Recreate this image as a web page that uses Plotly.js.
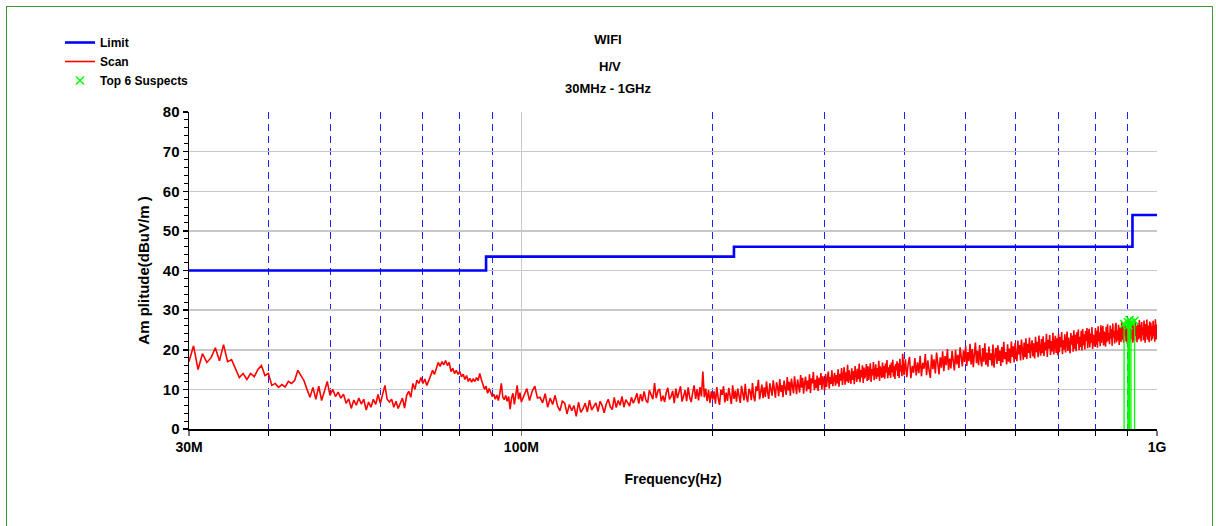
<!DOCTYPE html>
<html>
<head>
<meta charset="utf-8">
<script src="https://cdn.plot.ly/plotly-3.0.1.min.js"></script>
<style>
  html, body { margin: 0; padding: 0; background: #fff; overflow: hidden; }
  #frame { position: absolute; left: 6px; top: 6px; width: 1207px; height: 600px; border: 1px solid #3a9a3a; box-sizing: border-box; pointer-events: none; }
  #chart { position: absolute; left: 0; top: 0; width: 1216px; height: 526px; }
</style>
</head>
<body>
<div id="chart"></div>
<div id="frame"></div>
<script>
// ---- Data (frequencies in MHz, amplitudes in dBuV/m) ----
const titleLines = ["WIFI", "H/V", "30MHz - 1GHz"];
const xTickVals = [30, 100, 1000];
const xTickText = ["30M", "100M", "1G"];
const xMinorVals = [40, 50, 60, 70, 80, 90, 200, 300, 400, 500, 600, 700, 800, 900];

const limitFreq = [30, 88, 216, 915, 1000];
const limitAmp  = [40, 43.5, 46, 54, 54];

const suspectFreq = [887.7, 899.8, 902.5, 905.4, 910, 922];
const suspectAmp  = [26.5, 27, 26.2, 27.5, 26.8, 27.3];

const scanFreqLow = [
  30,30.5,31,31.5,32,32.5,33,33.5,34,34.5,
  35,35.5,36,36.5,37,37.5,38,38.5,39,39.5,
  40,40.5,41,41.5,42,42.5,43,43.5,44,44.5,
  45,45.5,46,46.5,47,47.5,48,48.5,49,49.5,
  50,50.5,51,51.5,52,52.5,53,53.5,54,54.5,
  55,55.5,56,56.5,57,57.5,58,58.5,59,59.5,
  60,60.5,61,61.5,62,62.5,63,63.5,64,64.5,
  65,65.5,66,66.5,67,67.5,68,68.5,69,69.5,
  70,70.5,71,71.5,72,72.5,73,73.5,74,74.5,
  75,75.5,76,76.5,77,77.5,78,78.5,79,79.5,
  80,80.5,81,81.5,82,82.5,83,83.5,84,84.5,
  85,85.5,86,86.5,87,87.5,88,88.5,89,89.5,
  90,90.5,91,91.5,92,92.5,93,93.5,94,94.5,
  95,95.5,96,96.5,97,97.5,98,98.5,99,99.5,
  100];
const scanAmpLow = [
  17,21,15,19,16.8,18,20.5,17.2,21.3,17,
  17.5,15,13,14,12.5,14,13.2,15,16,13.5,
  14,11,11.5,10.5,11.2,10.6,12,11.5,12.3,14.8,
  13.5,12.2,10,8,10.5,7.5,10.8,7.2,9.5,12,
  8.5,10,8.2,9.3,7.8,8.8,6.5,7.6,5.2,7.3,
  6,7.8,6.3,7.5,4.8,6.8,5.5,7.5,6.2,8.7,
  6.5,9,11,7.5,6.8,7.5,5.5,7,5.2,6.5,
  7.8,5.3,8.5,9.5,8,11.5,10,12.3,11.5,13,
  11.5,12.6,11,12.2,13.5,14.8,13.8,15.2,16.8,15.8,
  17,16.2,17.3,16,16.8,14.5,15.3,14,14.8,13.8,
  14.5,13.2,13.8,12.5,13.5,12,12.8,11.8,12.6,12,
  13,12.2,14,12.5,11,10,10.8,9,10.2,9.3,
  8.2,8.8,7.5,8.6,7.2,9,11.5,8,7.4,8.5,
  7,8.2,5,7.8,9,6.2,8.5,11,7.5,9.2,
  6.8];

const scanFreqMid = [
  101,102,103,104,105,106,107,108,109,110,
  111,112,113,114,115,116,117,118,119,120,
  121,122,123,124,125,126,127,128,129,130,
  131,132,133,134,135,136,137,138,139,140,
  141,142,143,144,145,146,147,148,149,150,
  151,152,153,154,155,156,157,158,159,160,
  161,162,163,164,165,166,167,168,169,170,
  171,172,173,174,175,176,177,178,179,180,
  181,182,183,184,185,186,187,188,189,190,
  191,192,193,194,195,196,197,198,199,200];
const scanAmpMid = [
  8.5,10.2,7.2,9.5,10.8,7.8,8,6.6,8.9,5.5,
  7.8,6.2,8.5,5.8,4.6,7,6.5,3.8,6.2,4.6,
  5.9,3.2,6.8,4.2,5.1,6.5,4.3,7.3,4.8,5.6,
  6.6,4.4,7,5.9,4.1,6.3,7.5,5.6,4.9,8,
  5.4,7.2,6,8.2,5.5,7.4,6.6,5.8,8,6.5,
  7.6,9,6.4,8.8,7,9.5,7.3,6.6,9.8,8.4,
  7.5,11.6,7.8,9.6,10.1,7,8.4,6.8,9.2,10.4,
  7.5,8.2,9.6,6.5,10.2,7.8,9.4,10.8,6.9,8.6,
  9.8,7,10.5,8,6.8,9.2,11,7.6,10,7.2,
  10.6,8.2,14.5,8,10.2,7,9.8,6.6,9.5,7.4];

const scanFreqHigh = [
  201,202,203,204,205,206,207,208,209,210,
  211,212,213,214,215,216,217,218,219,220,
  221,222,223,224,225,226,227,228,229,230,
  231,232,233,234,235,236,237,238,239,240,
  241,242,243,244,245,246,247,248,249,250,
  251,252,253,254,255,256,257,258,259,260,
  261,262,263,264,265,266,267,268,269,270,
  271,272,273,274,275,276,277,278,279,280,
  281,282,283,284,285,286,287,288,289,290,
  291,292,293,294,295,296,297,298,299,300,
  301,302,303,304,305,306,307,308,309,310,
  311,312,313,314,315,316,317,318,319,320,
  321,322,323,324,325,326,327,328,329,330,
  331,332,333,334,335,336,337,338,339,340,
  341,342,343,344,345,346,347,348,349,350,
  351,352,353,354,355,356,357,358,359,360,
  361,362,363,364,365,366,367,368,369,370,
  371,372,373,374,375,376,377,378,379,380,
  381,382,383,384,385,386,387,388,389,390,
  391,392,393,394,395,396,397,398,399,400];
const scanAmpHigh = [
  9.5,6.4,10.6,7.8,6.1,9.9,8.6,10.8,6.7,9.2,
  7.1,10.4,8.8,6.3,11,7.6,9.7,6.9,10.2,8.1,
  6.6,10.9,9.3,7.2,11.4,8,6.8,10.1,9.5,7.3,
  11.6,8.2,7,10.8,9.6,12.4,7.5,9.9,11.2,7.8,
  10.5,8.1,12,9.3,7.6,11.5,10.2,8.4,12.3,9,
  7.9,11.8,10.6,8.3,12.6,9.4,11.1,8,12.2,10.3,
  8.6,13.1,9.7,11.9,8.4,12.7,10.9,9,13.3,10.1,
  8.8,12.5,11.3,9.2,13.6,10.4,12.9,8.9,11.7,13.2,
  9.5,12.2,10.1,13.8,9.1,12.8,11.5,14.4,9.8,12.4,
  10.3,13.5,9.6,12.9,11.1,14.1,10,13.3,11.8,9.7,
  13.9,10.6,12.7,14.5,10.2,13.1,11.4,14.8,10.8,12.5,
  14.2,10.9,13.6,11.5,15.1,10.7,13.9,12.2,15.4,11.1,
  13.4,15.6,11.2,14.3,12,16.2,11.6,14.8,12.7,11.4,
  15.3,12.4,14.6,11.3,15.9,13.1,11.9,15.2,12.6,16.5,
  11.8,14.9,13,16.1,11.6,15.5,12.8,14.2,16.4,12.1,
  15.8,12.4,14.7,16.6,11.9,15.1,13.5,16.9,12.3,14.4,
  16.3,12.6,15.4,13.2,17.2,12.2,15.8,14.6,12.9,16.8,
  13.1,15.9,12.7,16.5,14.2,17.4,12.8,15.6,13.6,16.2,
  12.9,16.8,14.3,17.5,13.2,15.9,12.6,16.4,14.8,17.1,
  13.4,16.6,12.9,17.7,14.5,16.1,13.3,19,15.2,13.6];

const scanFreqTop = [
  402,404,406,408,410,412,414,416,418,420,
  422,424,426,428,430,432,434,436,438,440,
  442,444,446,448,450,452,454,456,458,460,
  462,464,466,468,470,472,474,476,478,480,
  482,484,486,488,490,492,494,496,498,500,
  502,504,506,508,510,512,514,516,518,520,
  522,524,526,528,530,532,534,536,538,540,
  542,544,546,548,550,552,554,556,558,560,
  562,564,566,568,570,572,574,576,578,580,
  582,584,586,588,590,592,594,596,598,600,
  602,604,606,608,610,612,614,616,618,620,
  622,624,626,628,630,632,634,636,638,640,
  642,644,646,648,650,652,654,656,658,660,
  662,664,666,668,670,672,674,676,678,680,
  682,684,686,688,690,692,694,696,698,700,
  702,704,706,708,710,712,714,716,718,720,
  722,724,726,728,730,732,734,736,738,740,
  742,744,746,748,750,752,754,756,758,760,
  762,764,766,768,770,772,774,776,778,780,
  782,784,786,788,790,792,794,796,798,800,
  802,804,806,808,810,812,814,816,818,820,
  822,824,826,828,830,832,834,836,838,840,
  842,844,846,848,850,852,854,856,858,860,
  862,864,866,868,870,872,874,876,878,880,
  882,884,886,888,890,892,894,896,898,900,
  902,904,906,908,910,912,914,916,918,920,
  922,924,926,928,930,932,934,936,938,940,
  942,944,946,948,950,952,954,956,958,960,
  962,964,966,968,970,972,974,976,978,980,
  982,984,986,988,990,992,994,996,998,1000];
const scanAmpTop = [
  17.6,13.1,16.4,18.2,12.8,15.9,14.2,17.9,13.5,16.8,
  14.1,18.5,13.3,16.7,15.2,18.9,13.6,17.3,14.7,12.9,
  18.8,15.1,17.6,14,19.3,16.2,13.8,18.1,15.5,19.6,
  14.6,18.4,16.1,20.2,14.9,17.8,15.3,19.7,16.5,14.8,
  19.9,16.3,18.7,15.4,20.6,17.2,15.8,19.8,16.9,21,
  15.9,19.4,17.1,21.5,16.3,20.2,15.6,18.9,21.8,16.6,
  19.7,16.1,21.2,17.5,15.8,20.4,17,21.6,16.2,19.3,
  15.7,20.8,17.4,19.1,16,21.3,15.5,18.6,20.5,16.4,
  21.1,17.2,19.8,15.9,20.7,16.8,22,17.6,19.4,16.3,
  21.4,17,20.3,16.6,22.1,18.2,20.9,16.8,21.7,18.5,
  17.1,22.3,18.8,21.2,17.3,22.6,19,17.5,21.8,18.1,
  22.9,17.7,21.5,19.2,23.1,17.9,20.8,22.4,18.3,21.6,
  17.8,23.3,19.4,22,18.1,23.6,20.2,18.5,22.7,19.1,
  23.4,18.4,21.9,19.8,24,18.2,22.5,20.3,23.7,18.7,
  22.2,19.6,24.3,18.8,21.4,23.5,19.2,22.9,18.6,24.1,
  19.4,23.2,20.6,24.5,18.9,22.4,20,23.9,19.3,22.7,
  24.6,19.7,23.1,20.9,19.1,24.2,21.3,23.6,19.5,24.9,
  20.2,23.8,19.6,24.4,21.5,25.1,19.9,23.3,20.7,24.8,
  19.8,25.2,21.1,23.9,20.1,24.7,22.2,25.5,20.4,23.5,
  25.3,20.6,24.1,21.8,25.7,20.2,23.8,22.5,20.8,25.4,
  21.3,24.8,20.5,25.9,22.1,24.4,20.9,26.2,21.7,24.9,
  26,21.1,24.6,22.7,20.8,25.8,21.9,26.4,22.3,24.2,
  21.4,26.1,22.8,25.2,21,26.6,23.1,24.7,21.6,25.9,
  26.8,21.9,24.9,22.4,26.3,21.2,25.6,23.3,22,27,
  22.5,26.2,21.7,25.4,23.6,27.1,22.1,25.8,21.5,26.6,
  23.2,26.9,21.9,25.5,22.7,27.3,23.8,21.8,26.4,24.6,
  22.2,27.2,23.5,25.9,21.9,26.7,24.1,22.6,27.5,23,
  26.3,22.1,27,23.7,25.6,22.4,27.4,24.2,21.8,26.5,
  23.3,27.6,22.5,26.1,24.4,21.9,27.1,23.6,26.8,22.3,
  25.9,22.8,27.3,23.4,26.2,22,27.7,24.1,22.6,26.4];

// ---- Build traces from the data ----
const scanFreq = [].concat(scanFreqLow, scanFreqMid, scanFreqHigh, scanFreqTop);
const scanAmp  = [].concat(scanAmpLow, scanAmpMid, scanAmpHigh, scanAmpTop);

const stemX = [], stemY = [];
suspectFreq.forEach((f, i) => { stemX.push(f, f, null); stemY.push(0, suspectAmp[i], null); });

const FONT = "'Liberation Sans', Arial, sans-serif";

const traces = [
  { type: 'scatter', mode: 'lines', name: 'Limit', x: limitFreq, y: limitAmp,
    line: { color: '#0000ff', width: 2.6, shape: 'hv' } },
  { type: 'scatter', mode: 'lines', name: 'Scan', x: scanFreq, y: scanAmp,
    line: { color: '#ff0000', width: 1.6 } },
  { type: 'scatter', mode: 'lines', name: 'stems', x: stemX, y: stemY, showlegend: false,
    line: { color: '#00ff00', width: 1.3 }, hoverinfo: 'skip' },
  { type: 'scatter', mode: 'markers', name: 'Top 6 Suspects', x: suspectFreq, y: suspectAmp,
    marker: { symbol: 'x-thin-open', color: '#00ff00', size: 8, line: { color: '#00ff00', width: 1.5 } } }
];

const layout = {
  width: 1216, height: 526,
  margin: { l: 189, r: 59, t: 112, b: 97 },
  paper_bgcolor: '#ffffff', plot_bgcolor: '#ffffff',
  font: { family: FONT, color: '#000', size: 12, weight: 'bold' },
  title: { text: titleLines[0], font: { family: FONT, size: 13, weight: 'bold', color: '#000' },
           x: 0.5, xref: 'container', xanchor: 'center', y: 1 - 39/526, yref: 'container', yanchor: 'middle' },
  annotations: [
    { text: titleLines[1], xref: 'paper', yref: 'paper', x: (610-189)/968, y: (429-66)/317,
      xanchor: 'center', yanchor: 'middle', showarrow: false, font: { family: FONT, size: 13, weight: 'bold' } },
    { text: titleLines[2], xref: 'paper', yref: 'paper', x: (608-189)/968, y: (429-88)/317,
      xanchor: 'center', yanchor: 'middle', showarrow: false, font: { family: FONT, size: 13, weight: 'bold' } }
  ],
  showlegend: true,
  legend: { x: (60-189)/968, xanchor: 'left', y: (429-28)/317, yanchor: 'top',
            bgcolor: 'rgba(0,0,0,0)', font: { family: FONT, size: 12, weight: 'bold' }, traceorder: 'normal' },
  xaxis: {
    type: 'log', range: [Math.log10(30), Math.log10(1000)],
    tickmode: 'array', tickvals: xTickVals, ticktext: xTickText,
    ticks: 'outside', ticklen: 5, tickcolor: '#777', tickwidth: 1.5,
    tickfont: { family: FONT, size: 14, weight: 'bold', color: '#000' },
    showgrid: true, gridcolor: '#c8c8c8', gridwidth: 1.5,
    showline: true, linecolor: '#000', linewidth: 1.5, mirror: false, zeroline: false,
    minor: { tickmode: 'array', tickvals: xMinorVals, ticks: 'outside', ticklen: 5, tickcolor: '#000', tickwidth: 1,
             showgrid: true, gridcolor: '#2020ff', gridwidth: 1, griddash: '7px,5px' },
    title: { text: 'Frequency(Hz)', font: { family: FONT, size: 14, weight: 'bold' }, standoff: 20 },
    automargin: false
  },
  yaxis: {
    range: [0, 80], tickmode: 'linear', tick0: 0, dtick: 10,
    ticks: 'outside', ticklen: 5, tickcolor: '#000', tickwidth: 1.5,
    tickfont: { family: FONT, size: 15, weight: 'bold', color: '#000' },
    showgrid: true, gridcolor: '#c8c8c8', gridwidth: 1.5,
    showline: true, linecolor: '#000', linewidth: 1.5, zeroline: false,
    minor: { dtick: 2, ticks: 'outside', ticklen: 4, tickcolor: '#000', tickwidth: 1, showgrid: false },
    title: { text: 'Am plitude(dBuV/m )', font: { family: FONT, size: 15, weight: 'bold' } },
    automargin: false
  }
};

Plotly.newPlot('chart', traces, layout, { displayModeBar: false, staticPlot: true });
</script>
</body>
</html>
